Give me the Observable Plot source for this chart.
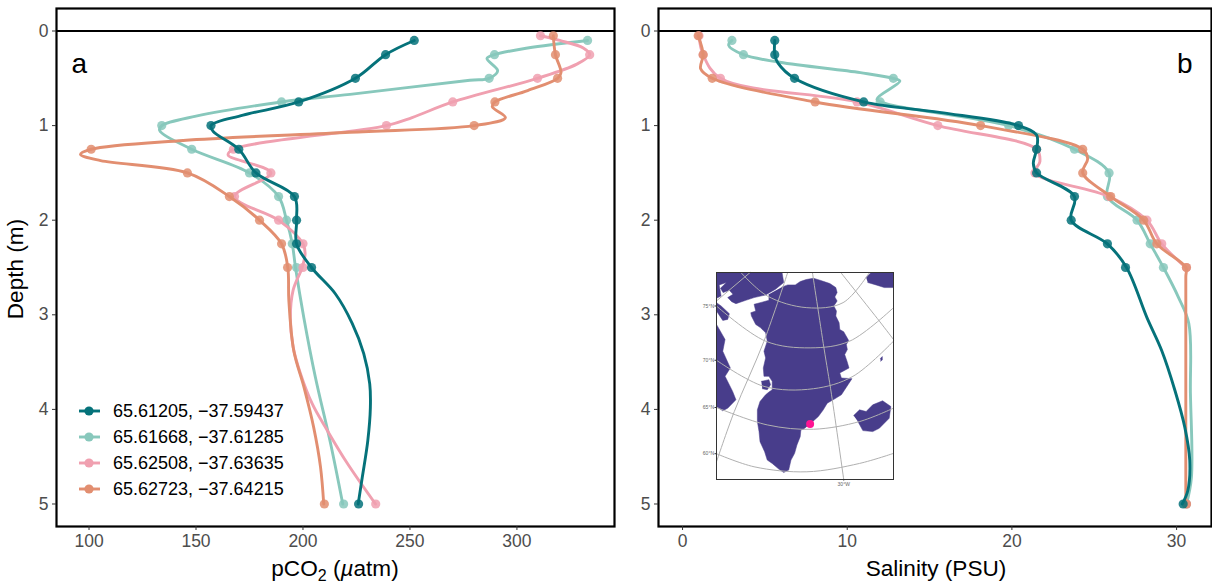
<!DOCTYPE html>
<html><head><meta charset="utf-8">
<script src="https://cdn.jsdelivr.net/npm/d3@7"></script>
<script src="https://cdn.jsdelivr.net/npm/@observablehq/plot@0.6"></script>
<style>
html,body{margin:0;padding:0;background:#fff;overflow:hidden}
#root{position:relative;width:1212px;height:585px;font-family:"Liberation Sans",Arial,sans-serif}
#root>svg,#root>div{position:absolute}
.lg{display:flex;align-items:center;height:26px;font-size:18px;color:#000;white-space:nowrap}
.lg svg{margin-right:13px;overflow:visible}
</style></head><body><div id="root"></div>
<script>
const stations = ["65.61205, \u221237.59437","65.61668, \u221237.61285","65.62508, \u221237.63635","65.62723, \u221237.64215"];
const colors = ["#05727a","#88c8bc","#f0a0b0","#e28e70"];
const dotAlpha = 0.85;

const depthsDeep = [0.1,0.25,0.5,0.75,1,1.25,1.5,1.75,2,2.25,2.5,5];
const depthsTop  = [0.05,0.25,0.5,0.75,1,1.25,1.5,1.75,2,2.25,2.5,5];

// pCO2 sample values
const pco2Dark   = [252,238.6,224.5,198,157,170,178,196,197,197,204,226];
const pco2Teal   = [333,289.5,287,190,134,148,175,188.6,192.3,195,197,219];
const pco2Pink   = [311,334,309.6,270,239,167.5,185,168,188.6,200,200,234];
const pco2Orange = [317,318,319,289.7,280,101,146,165.6,179.7,190,192.8,210];

// salinity sample values
const salDark   = [5.6,5.6,6.8,11,20.4,21.5,21.5,23.8,23.6,25.8,26.9,30.4];
const salTeal   = [3,3.7,12.8,12,19.8,23.8,25.9,25.8,27.6,28.4,29.2,30.6];
const salPink   = [1,1.25,2.3,10.6,15.5,21.5,21.4,25.9,28.2,29.1,30.6,30.6];
const salOrange = [0.95,1.25,1.8,8.05,18.1,24.3,24.3,26,28,28.8,30.6,30.6];

// curves: [value, depth]
const pco2LineDark = [[252,.1],[238.6,.25],[224.5,.5],[198,.75],[172,.89],[157,1],[158,1.06],[170,1.25],[178,1.5],[196,1.75],[197,2],[197,2.25],[204,2.5],[215.2,2.78],[223,3.09],[228.4,3.41],[231.2,3.73],[231.5,3.98],[230.3,4.33],[227.7,4.72],[225.8,5]];
const pco2LineTeal = [[333,.1],[305,.18],[289.5,.25],[286,.29],[291,.42],[287,.5],[278,.52],[222,.67],[190,.75],[150,.9],[134,1],[133,1.05],[148,1.25],[175,1.5],[188.6,1.75],[192.3,2],[195,2.25],[196.5,2.5],[200.4,3.03],[205.8,3.66],[212.9,4.36],[218.6,5]];
const pco2LinePink = [[311,.05],[320,.1],[331,.18],[334,.25],[328,.35],[309.6,.5],[270,.75],[251,.915],[239,1],[167.5,1.25],[165,1.31],[185,1.5],[168,1.75],[188.6,2],[200,2.25],[201,2.35],[199.6,2.5],[195.4,2.74],[194.1,3.03],[195.4,3.34],[198.8,3.62],[204.3,3.94],[211.3,4.22],[220.7,4.57],[233.9,5]];
const pco2LineOrange = [[317,.05],[318,.25],[320.6,.44],[319,.5],[305,.63],[289.7,.75],[288.5,.8],[294.6,.915],[280,1],[222,1.07],[144,1.157],[101,1.25],[96,1.305],[105.4,1.37],[146,1.5],[165.6,1.75],[179.7,2],[190,2.25],[192.9,2.5],[193.4,2.85],[195.7,3.38],[200.4,3.76],[205,4.19],[208.2,4.61],[209.7,5]];

const salLineDark = [[5.6,.1],[5.6,.25],[5.8,.34],[6.8,.5],[11,.75],[15.6,.86],[20.4,1],[21.5,1.1],[21.5,1.25],[21.3,1.4],[21.5,1.5],[23.8,1.75],[23.6,2],[25.8,2.25],[26.96,2.5],[28.2,3.03],[29.1,3.38],[29.9,3.8],[30.5,4.19],[30.8,4.54],[30.68,4.86],[30.34,5]];
const salLineTeal = [[3,.1],[2.8,.15],[3.7,.25],[5.9,.33],[10.8,.44],[12.8,.5],[13.2,.53],[11.8,.72],[12.4,.77],[19.8,1],[23.8,1.25],[25.9,1.5],[25.8,1.75],[27.6,2],[28.4,2.25],[29.2,2.5],[30.1,2.81],[30.74,3.09],[30.84,3.83],[30.9,4.72],[30.6,5]];
const salLinePink = [[1,.05],[1.25,.25],[2.3,.5],[10.6,.75],[15.5,1],[21.5,1.25],[21.7,1.38],[21.4,1.5],[25.9,1.75],[28.2,2],[29.1,2.25],[30.56,2.5]];
const salLineOrange = [[.95,.05],[1.25,.25],[1.1,.4],[1.8,.5],[8.05,.75],[18.1,1],[24.3,1.25],[24.6,1.35],[24.3,1.5],[26,1.75],[28,2],[28.8,2.25],[30.56,2.5],[30.56,2.6],[30.56,4.9],[30.56,5]];

// inset map, in the inset's own reading units
const greenland = [[245,78],[262,72],[285,72],[300,62],[318,56],[340,52],[360,58],[372,62],[390,68],[408,80],[412,95],[405,108],[412,120],[402,135],[410,150],[408,165],[418,185],[420,205],[432,212],[447,238],[440,250],[443,265],[435,280],[442,300],[448,320],[420,335],[425,350],[457,352],[445,370],[435,385],[425,400],[400,415],[382,425],[370,445],[355,465],[340,478],[325,490],[310,503],[302,505],[300,525],[290,550],[283,575],[272,595],[265,625],[250,632],[235,622],[215,605],[200,595],[192,570],[178,540],[175,510],[170,480],[170,445],[178,420],[195,400],[205,392],[215,385],[215,360],[205,345],[190,345],[188,320],[195,290],[190,270],[200,240],[195,215],[180,200],[165,190],[152,165],[150,155],[165,150],[160,130],[205,118],[205,100]];
const disko = [[182,360],[205,355],[210,370],[200,385],[185,382]];
const canadaN = [[46,36],[245,36],[250,65],[225,85],[195,102],[160,110],[135,118],[105,128],[92,122],[80,110],[96,100],[85,88],[66,95],[58,82],[76,65],[54,72],[60,105],[46,112]];
const baffinN = [[46,125],[60,135],[85,158],[80,175],[65,178],[46,150]];
const baffinS = [[46,190],[72,235],[65,270],[88,320],[72,345],[95,390],[105,415],[80,440],[65,448],[46,435]];
const iceland = [[462,462],[480,445],[500,450],[520,430],[550,418],[575,435],[570,470],[540,500],[520,510],[490,507],[475,480]];
const janMayen = [[543,292],[549,286],[549,296],[544,300]];
const svalbard = [[500,50],[515,35],[583,35],[583,80],[555,80],[530,72],[505,65]];
const parallels = [
 [[120,35],[200,105],[320,140],[430,125],[510,35]],
 [[46,135],[195,240],[330,260],[450,240],[583,140]],
 [[46,297],[190,375],[340,382],[460,345],[583,240]],
 [[46,438],[200,490],[340,503],[480,480],[583,440]],
 [[46,576],[160,615],[320,630],[480,605],[583,575]]
];
const meridians = [
 [[148,35],[46,120]],
 [[262,35],[190,240],[100,450],[46,600]],
 [[337,35],[372,260],[395,400],[432,653]],
 [[423,35],[540,180],[583,235]]
];
const site = [[330,487]];
const mapYTicks = [135,297,438,576];
const mapYLabels = ["75\u00b0N","70\u00b0N","65\u00b0N","60\u00b0N"];
const mapXTicks = [432];
const mapXLabels = ["30\u00b0W"];

const fontFamily = '"Liberation Sans",Arial,sans-serif';
const toRows = (vals, depths) => vals.map((v,i)=>({v, d:depths[i]}));
const toPairs = a => a.map(([v,d])=>({v,d}));

function panel({lines, dots, width, marginLeft, marginRight, xDomain, xTicks, letter, letterAnchor, letterDx}){
  const marks = [];
  marks.push(Plot.ruleY([0],{stroke:"#000",strokeWidth:2}));
  [1,2,3,0].forEach(i=>{
    marks.push(Plot.dot(dots[i],{x:"v",y:"d",r:4.6,fill:colors[i],fillOpacity:dotAlpha,stroke:"none"}));
    marks.push(Plot.line(lines[i],{x:"v",y:"d",stroke:colors[i],strokeWidth:2.9,curve:"catmull-rom"}));
  });
  marks.push(Plot.text([letter],{text:d=>d,frameAnchor:letterAnchor,dx:letterDx,dy:45,fontSize:28,fill:"#000"}));
  marks.push(Plot.frame({stroke:"#000",strokeWidth:2.2}));
  marks.push(Plot.axisX({ticks:xTicks,tickFormat:d=>d,tickSize:4,tickPadding:4,fontSize:17.5,stroke:"#333",fill:"#4d4d4d",label:null}));
  marks.push(Plot.axisY({ticks:[0,1,2,3,4,5],tickFormat:d=>d,tickSize:4,tickPadding:4,fontSize:17.5,stroke:"#333",fill:"#4d4d4d",label:null}));
  return Plot.plot({width,height:585,marginTop:8,marginBottom:59,marginLeft,marginRight,
    style:{fontFamily,background:"transparent",overflow:"visible"},
    x:{domain:xDomain,label:null},y:{domain:[5.238,-0.238],label:null},marks});
}
function addLabel(svg, x, y, html, rotate){
  const t = d3.select(svg).append("text").attr("x",x).attr("y",y).attr("text-anchor","middle")
    .attr("font-size",22.6).attr("fill","#000").attr("font-family",fontFamily).html(html);
  if(rotate) t.attr("transform",`rotate(-90 ${x} ${y})`);
}
const root = document.getElementById("root");

const a = panel({
  lines:[pco2LineDark,pco2LineTeal,pco2LinePink,pco2LineOrange].map(toPairs),
  dots:[toRows(pco2Dark,depthsDeep),toRows(pco2Teal,depthsDeep),toRows(pco2Pink,depthsTop),toRows(pco2Orange,depthsTop)],
  width:616,marginLeft:56,marginRight:2,xDomain:[84.8,345.6],xTicks:[100,150,200,250,300],
  letter:"a",letterAnchor:"top-left",letterDx:15
});
a.style.left="0px";a.style.top="0px";root.appendChild(a);
addLabel(a,335,576,'pCO<tspan dy="5" font-size="16">2</tspan><tspan dy="-5"> (</tspan><tspan font-style="italic">\u00b5</tspan>atm)');
addLabel(a,23,269,'Depth (m)',true);

const b = panel({
  lines:[salLineDark,salLineTeal,salLinePink,salLineOrange].map(toPairs),
  dots:[toRows(salDark,depthsDeep),toRows(salTeal,depthsDeep),toRows(salPink,depthsTop),toRows(salOrange,depthsTop)],
  width:596,marginLeft:42,marginRight:1,xDomain:[-1.46,32.12],xTicks:[0,10,20,30],
  letter:"b",letterAnchor:"top-right",letterDx:-19
});
b.style.left="616px";b.style.top="0px";root.appendChild(b);
addLabel(b,320,576,'Salinity (PSU)');

// inset map
const land = [greenland,disko,canadaN,baffinN,baffinS,iceland,janMayen,svalbard];
const toXY = a => a.map(([x,y])=>({x,y}));
const inset = Plot.plot({width:200,height:225,marginTop:4,marginLeft:22,marginRight:1,marginBottom:14,
  style:{fontFamily,background:"transparent",overflow:"visible"},
  x:{domain:[46,583],label:null},y:{domain:[653,35],label:null},
  marks:[
    Plot.rect([0],{x1:46,x2:583,y1:35,y2:653,fill:"#fff"}),
    ...land.map(p=>Plot.line(toXY(p),{x:"x",y:"y",fill:"#483d8b",stroke:"#483d8b",strokeWidth:.5})),
    ...parallels.map(p=>Plot.line(toXY(p),{x:"x",y:"y",stroke:"#b0b0b0",strokeWidth:1,curve:"catmull-rom"})),
    ...meridians.map(p=>Plot.line(toXY(p),{x:"x",y:"y",stroke:"#b0b0b0",strokeWidth:1,curve:"catmull-rom"})),
    Plot.dot(site,{x:d=>d[0],y:d=>d[1],r:4,fill:"#ff1493"}),
    Plot.frame({stroke:"#333",strokeWidth:1}),
    Plot.axisX({ticks:mapXTicks,tickFormat:(d,i)=>mapXLabels[i],fontSize:5,tickSize:1.5,tickPadding:1,fill:"#666",stroke:"#333",label:null}),
    Plot.axisY({ticks:mapYTicks,tickFormat:(d,i)=>mapYLabels[i],fontSize:5,tickSize:1.5,tickPadding:1,fill:"#666",stroke:"#333",label:null})
  ]});
inset.style.left="693.5px";inset.style.top="267.5px";root.appendChild(inset);

// legend
const lg = document.createElement("div");
lg.style.left="79px";lg.style.top="398px";
stations.forEach((s,i)=>{
  const row=document.createElement("div");row.className="lg";
  row.innerHTML=`<svg width="21" height="10"><line x1="0" x2="21" y1="5" y2="5" stroke="${colors[i]}" stroke-width="2.9"/><circle cx="10" cy="5" r="4.6" fill="${colors[i]}"/></svg><span>${s}</span>`;
  lg.appendChild(row);
});
root.appendChild(lg);
</script></body></html>
